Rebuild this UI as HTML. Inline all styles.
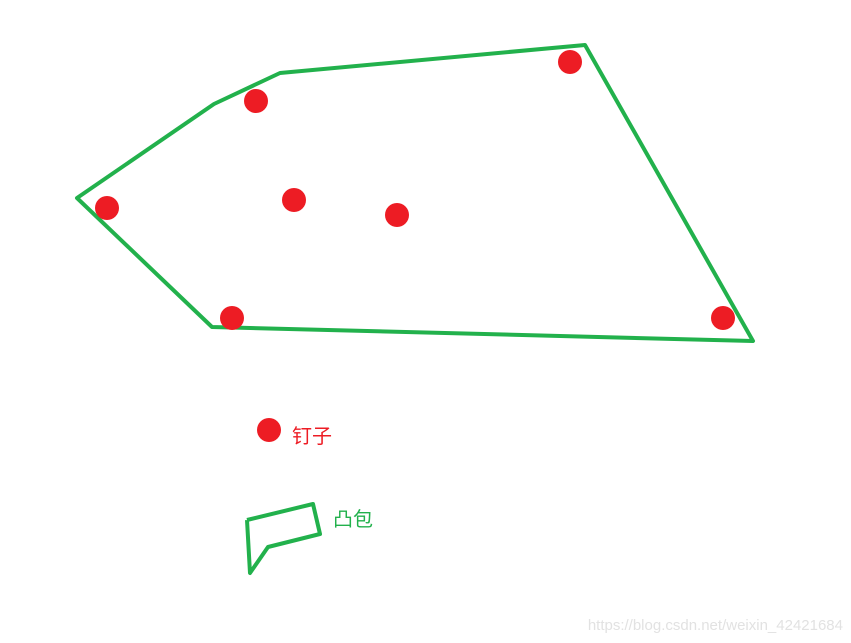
<!DOCTYPE html>
<html><head><meta charset="utf-8"><style>
html,body{margin:0;padding:0;background:#fff;width:851px;height:643px;overflow:hidden}
svg{display:block}
</style></head><body>
<svg id="c" width="851" height="643">
<text x="292" y="443" font-family="'Liberation Sans','Noto Sans CJK SC',sans-serif" font-size="20" fill="#ed1c24">钉子</text>
<text x="333" y="526" font-family="'Liberation Sans','Noto Sans CJK SC',sans-serif" font-size="20" fill="#22b14c">凸包</text>
<text x="843" y="630" text-anchor="end" font-family="'Liberation Sans',sans-serif" font-size="15" fill="#e2e2e2">https://blog.csdn.net/weixin_42421684</text>
</svg>
<script>
const nailX=[256,570,107,294,397,232,723];
const nailY=[101,62,208,200,215,318,318];
const hullX=[77,214,280,585,753,212];
const hullY=[198,104,73,45,341,327];
const legendHullX=[247,313,320,268,250];
const legendHullY=[520,504,534,547,573];
const ns="http://www.w3.org/2000/svg";
const svg=document.getElementById('c');
function poly(xs,ys,closed){const p=document.createElementNS(ns,closed?'polygon':'polyline');p.setAttribute('points',xs.map((x,i)=>x+','+ys[i]).join(' '));p.setAttribute('fill','none');p.setAttribute('stroke','#22b14c');p.setAttribute('stroke-width','4');p.setAttribute('stroke-linejoin','round');svg.appendChild(p);return p;}
const h=poly(hullX,hullY,true);


const lh=poly(legendHullX.concat([247]),legendHullY.concat([520]),false);


nailX.forEach((x,i)=>{const c=document.createElementNS(ns,'circle');c.setAttribute('cx',x);c.setAttribute('cy',nailY[i]);c.setAttribute('r',12);c.setAttribute('fill','#ed1c24');


svg.appendChild(c);});
const lc=document.createElementNS(ns,'circle');lc.setAttribute('cx',269);lc.setAttribute('cy',430);lc.setAttribute('r',12);lc.setAttribute('fill','#ed1c24');


svg.appendChild(lc);
</script>
</body></html>
